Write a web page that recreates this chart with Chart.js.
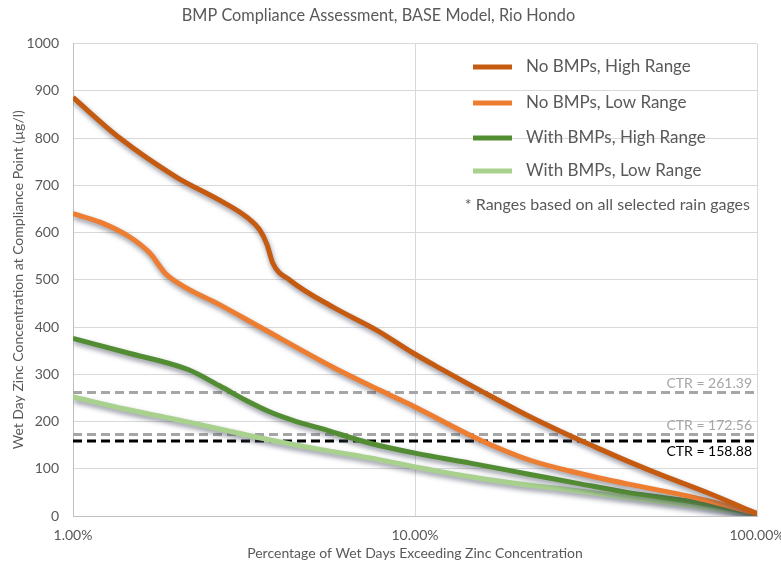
<!DOCTYPE html>
<html>
<head>
<meta charset="utf-8">
<script src="https://cdn.jsdelivr.net/npm/chart.js@4.4.0/dist/chart.umd.min.js"></script>
<style>
  html, body { margin: 0; padding: 0; background: #fff; }
  #wrap { width: 781px; height: 563px; position: relative; }
</style>
</head>
<body>
<div id="wrap"><canvas id="bmpChart" width="781" height="563"></canvas></div>
<script>
const TITLE = 'BMP Compliance Assessment, BASE Model, Rio Hondo';
const X_TITLE = 'Percentage of Wet Days Exceeding Zinc Concentration';
const Y_TITLE = 'Wet Day Zinc Concentration at Compliance Point (µg/l)';
const X_TICKS = [1, 10, 100];
const FOOTNOTE = '* Ranges based on all selected rain gages';

// series: x = % of wet days, y = zinc (ug/l)
const noBmpHighX = [1.0, 1.37, 2.01, 2.69, 3.23, 3.52, 3.69, 3.84, 4.31, 5.76, 7.74, 9.87, 11.8, 15.5, 21.7, 26.5, 33.2, 42.5, 52, 72.9, 100];
const noBmpHighY = [886, 800, 717, 668, 632, 605, 575, 535, 499, 442, 393, 345, 313, 266, 210, 180, 148, 114, 88, 47, 5];

const noBmpLowX = [1.0, 1.2, 1.47, 1.68, 1.86, 2.13, 2.64, 3.52, 5.76, 7.9, 9.87, 15.5, 21.7, 30.4, 41.7, 65, 100];
const noBmpLowY = [640, 622, 590, 556, 514, 484, 450, 400, 315, 266, 233, 161, 118, 90, 68, 40, 5];

const withBmpHighX = [1.0, 1.43, 2.17, 2.69, 3.2, 3.77, 4.5, 5.27, 7.39, 10, 14.5, 21.7, 30.4, 41.7, 65, 100];
const withBmpHighY = [376, 346, 310, 275, 245, 220, 200, 186, 154, 133, 112, 88, 68, 50, 30, 5];

const withBmpLowX = [1.0, 1.43, 1.92, 2.23, 3.1, 3.77, 5.27, 7.39, 10, 14.5, 19.3, 26.5, 41.7, 65, 100];
const withBmpLowY = [252, 226, 207, 197, 174, 161, 141, 123, 104, 83, 70, 58, 40, 22, 3];

const SERIES_LABELS = ['No BMPs, High Range', 'No BMPs, Low Range', 'With BMPs, High Range', 'With BMPs, Low Range'];
const SERIES_COLORS = ['#C55A11', '#ED7D31', '#538D33', '#A9D18E'];

const CTR_VALUES = [261.39, 172.56, 158.88];
const CTR_COLORS = ['#A6A6A6', '#A6A6A6', '#000000'];

const FONT = "Lato, 'Open Sans', sans-serif";
const TEXT_COLOR = '#595959';

function toPoints(xs, ys) {
    return xs.map((x, i) => ({ x: x, y: ys[i] }));
}

const seriesX = [noBmpHighX, noBmpLowX, withBmpHighX, withBmpLowX];
const seriesY = [noBmpHighY, noBmpLowY, withBmpHighY, withBmpLowY];

const datasets = SERIES_LABELS.map((label, i) => ({
    label: label,
    data: toPoints(seriesX[i], seriesY[i]),
    borderColor: SERIES_COLORS[i],
    borderWidth: 5,
    pointRadius: 0,
    cubicInterpolationMode: 'monotone',
    shadow: true,
    fill: false
}));

CTR_VALUES.forEach((v, i) => {
    datasets.push({
        label: 'CTR = ' + v.toFixed(2),
        data: [{ x: X_TICKS[0], y: v }, { x: X_TICKS[X_TICKS.length - 1], y: v }],
        borderColor: CTR_COLORS[i],
        borderWidth: 3,
        borderDash: [9, 5],
        pointRadius: 0,
        fill: false
    });
});

// soft drop shadow under the main curves
const shadowPlugin = {
    id: 'shadow',
    beforeDatasetDraw(chart, args) {
        const ds = chart.data.datasets[args.index];
        if (!ds.shadow) return;
        const ctx = chart.ctx;
        ctx.save();
        ctx.shadowColor = 'rgba(70, 75, 95, 0.6)';
        ctx.shadowBlur = 5;
        ctx.shadowOffsetX = 1;
        ctx.shadowOffsetY = 3;
    },
    afterDatasetDraw(chart, args) {
        const ds = chart.data.datasets[args.index];
        if (ds.shadow) chart.ctx.restore();
    }
};

// CTR labels and the in-plot legend box
const labelsPlugin = {
    id: 'labels',
    afterDatasetsDraw(chart) {
        const ctx = chart.ctx;
        const y = chart.scales.y;
        const area = chart.chartArea;
        ctx.save();
        ctx.font = '14px ' + FONT;
        ctx.textAlign = 'right';
        CTR_VALUES.forEach((v, i) => {
            const py = y.getPixelForValue(v);
            const below = i === CTR_VALUES.length - 1;
            ctx.fillStyle = CTR_COLORS[i];
            ctx.textBaseline = below ? 'top' : 'bottom';
            ctx.fillText('CTR = ' + v.toFixed(2), area.right - 5, below ? py + 4 : py - 2);
        });

        const rowY = [67, 103, 138, 171];
        ctx.textAlign = 'left';
        ctx.textBaseline = 'middle';
        ctx.font = '17px ' + FONT;
        SERIES_LABELS.forEach((label, i) => {
            ctx.strokeStyle = SERIES_COLORS[i];
            ctx.lineWidth = 5;
            ctx.beginPath();
            ctx.moveTo(473, rowY[i]);
            ctx.lineTo(512, rowY[i]);
            ctx.stroke();
            ctx.fillStyle = TEXT_COLOR;
            ctx.fillText(label, 526, rowY[i]);
        });
        ctx.font = '16px ' + FONT;
        ctx.textAlign = 'right';
        ctx.fillText(FOOTNOTE, 750, 205);
        ctx.restore();
    }
};

const config = {
    type: 'line',
    data: { datasets: datasets },
    plugins: [shadowPlugin, labelsPlugin],
    options: {
        responsive: false,
        animation: false,
        layout: { padding: { left: 0, right: 24, top: 0, bottom: 0 } },
        plugins: {
            legend: { display: false },
            tooltip: { enabled: false },
            title: {
                display: true,
                text: TITLE,
                color: TEXT_COLOR,
                font: { family: FONT, size: 16.3, weight: 'normal' },
                padding: { top: 6, bottom: 18 }
            }
        },
        scales: {
            x: {
                type: 'logarithmic',
                min: X_TICKS[0],
                max: X_TICKS[X_TICKS.length - 1],
                afterBuildTicks: scale => { scale.ticks = X_TICKS.map(v => ({ value: v })); },
                afterFit: scale => {
                    scale.height = 47;
                    scale.paddingLeft = 0;
                    scale.paddingRight = 0;
                },
                grid: { color: '#D9D9D9', drawTicks: false },
                border: { color: '#BFBFBF' },
                ticks: {
                    color: TEXT_COLOR,
                    font: { family: FONT, size: 14 },
                    padding: 11,
                    maxRotation: 0,
                    autoSkip: false,
                    callback: v => Number(v).toFixed(2) + '%'
                },
                title: {
                    display: true,
                    text: X_TITLE,
                    color: TEXT_COLOR,
                    font: { family: FONT, size: 14 },
                    padding: { top: 0, bottom: 1 }
                }
            },
            y: {
                min: 0,
                max: 1000,
                afterFit: scale => { scale.width = 73; },
                grid: { color: '#D9D9D9', drawTicks: false },
                border: { color: '#BFBFBF' },
                ticks: {
                    stepSize: 100,
                    color: TEXT_COLOR,
                    font: { family: FONT, size: 14 },
                    padding: 14,
                    callback: v => String(v)
                },
                title: {
                    display: true,
                    text: Y_TITLE,
                    color: TEXT_COLOR,
                    font: { family: FONT, size: 14 },
                    padding: { top: 10, bottom: 0 }
                }
            }
        }
    }
};

const bmpChart = new Chart(document.getElementById('bmpChart'), config);
</script>
</body>
</html>
